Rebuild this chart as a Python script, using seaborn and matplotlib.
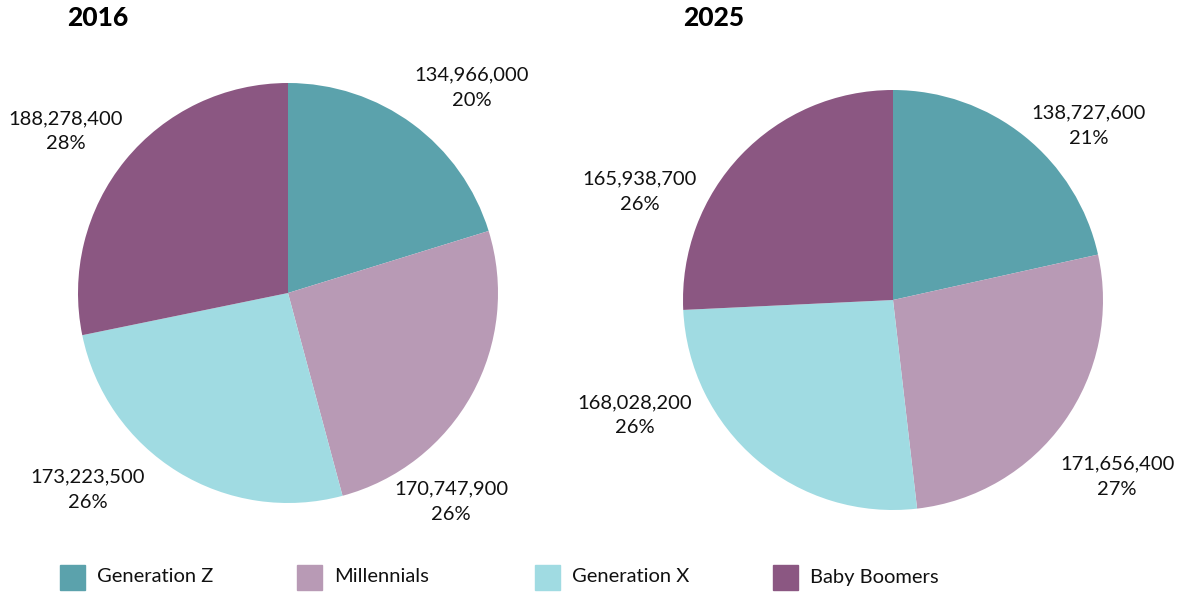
import matplotlib
matplotlib.use("Agg")
import matplotlib.pyplot as plt
from matplotlib.patches import Rectangle
import seaborn as sns

# Population by generation
generations = ["Generation Z", "Millennials", "Generation X", "Baby Boomers"]
pop_2016 = [134966000, 170747900, 173223500, 188278400]
pop_2025 = [138727600, 171656400, 168028200, 165938700]
years = ["2016", "2025"]

palette = ["#5BA2AC", "#B89AB5", "#A0DBE2", "#8B5782"]

sns.set_theme(style="white")
plt.rcParams["font.family"] = ["Lato", "DejaVu Sans"]


def whole_percents(values):
    """Integer shares summing to 100 (largest remainder)."""
    total = sum(values)
    raw = [100 * v / total for v in values]
    base = [int(r) for r in raw]
    order = sorted(range(len(raw)), key=lambda k: raw[k] - base[k], reverse=True)
    for k in order[: 100 - sum(base)]:
        base[k] += 1
    return base


fig = plt.figure(figsize=(11.84, 5.92), dpi=100)

# pie axes placement (figure fractions) and label anchor offsets in units of radius
axes_rects = [
    [78 / 1184, (592 - 503) / 592, 420 / 1184, 420 / 592],
    [683 / 1184, (592 - 510) / 592, 420 / 1184, 420 / 592],
]
label_offsets = [
    [(0.876, 0.976), (0.776, -0.995), (-0.952, -0.938), (-1.057, 0.771)],
    [(0.933, 0.829), (1.067, -0.843), (-1.229, -0.548), (-1.205, 0.514)],
]
title_x = [98 / 1184, 714 / 1184]

for i, values in enumerate([pop_2016, pop_2025]):
    ax = fig.add_axes(axes_rects[i])
    ax.pie(values, colors=palette, startangle=90, counterclock=False,
           radius=1, wedgeprops=dict(linewidth=0))
    ax.set_xlim(-1, 1)
    ax.set_ylim(-1, 1)
    ax.set_aspect("equal")
    ax.axis("off")
    for v, p, (dx, dy) in zip(values, whole_percents(values), label_offsets[i]):
        ax.text(dx, dy, f"{v:,}\n{p}%", ha="center", va="center",
                fontsize=14.5, color="#111111", linespacing=1.6, clip_on=False)
    fig.text(title_x[i], 1 - 18 / 592, years[i], ha="center", va="center",
             fontsize=19, fontweight="black", color="#000000")

# legend row
leg_x = [60, 297, 535, 773]
for x, name, c in zip(leg_x, generations, palette):
    fig.patches.append(Rectangle((x / 1184, (592 - 590) / 592), 25 / 1184, 25 / 592,
                                 transform=fig.transFigure, color=c, figure=fig))
    fig.text((x + 37) / 1184, 1 - 577 / 592, name, ha="left", va="center",
             fontsize=14.5, color="#111111")

fig.savefig("out.png", dpi=100)
